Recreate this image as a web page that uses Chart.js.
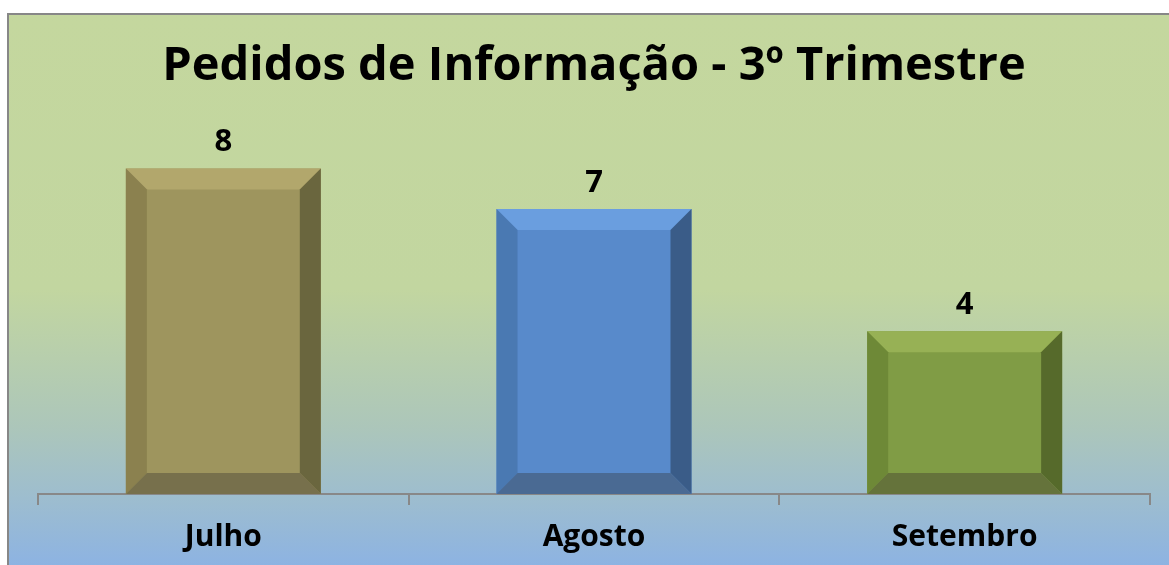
<!DOCTYPE html>
<html>
<head>
<meta charset="utf-8">
<script src="https://cdn.jsdelivr.net/npm/chart.js@4/dist/chart.umd.min.js"></script>
<style>
  html, body { margin: 0; padding: 0; background: #fff; }
  #wrap { width: 1169px; height: 565px; position: relative; }
</style>
</head>
<body>
<div id="wrap"><canvas id="pedidosChart" width="1169" height="565"></canvas></div>
<script>
// dados
var meses = ["Julho", "Agosto", "Setembro"];
var pedidos = [8, 7, 4];
var titulo = "Pedidos de Informação - 3º Trimestre";

// cores: frente, topo, esquerda, direita, base
var corFrente = ["#9E955E", "#588ACB", "#809C45"];
var corTopo = ["#B2A76C", "#6A9EDF", "#97B155"];
var corEsq = ["#8B814F", "#4A79B2", "#6E8937"];
var corDir = ["#6A663E", "#3A5C88", "#566A2B"];
var corBase = ["#77704C", "#4A6A93", "#65733B"];

var fonte = "Open Sans";

var fundoPlugin = {
  id: "fundo",
  beforeDraw: function (chart) {
    var c = chart.ctx;
    var g = c.createLinearGradient(0, 14, 0, 565);
    g.addColorStop(0, "#C4D79E");
    g.addColorStop(0.5, "#C2D6A0");
    g.addColorStop(0.75, "#ACC6BA");
    g.addColorStop(0.88, "#9DBDCF");
    g.addColorStop(1, "#8DB3E2");
    c.save();
    c.fillStyle = g;
    c.fillRect(8, 14, 1200, 600);
    c.strokeStyle = "#878787";
    c.lineWidth = 2;
    c.strokeRect(8, 14, 1200, 600);
    c.restore();
  }
};

// chanfro das barras + rotulo de valor
var chanfroPlugin = {
  id: "chanfro",
  afterDatasetsDraw: function (chart) {
    var c = chart.ctx;
    var meta = chart.getDatasetMeta(0);
    var b = 21;
    meta.data.forEach(function (bar, i) {
      var l = bar.x - bar.width / 2, r = bar.x + bar.width / 2;
      var t = bar.y, bo = bar.base;
      function quad(pts, cor) {
        c.beginPath();
        c.moveTo(pts[0][0], pts[0][1]);
        for (var k = 1; k < pts.length; k++) c.lineTo(pts[k][0], pts[k][1]);
        c.closePath();
        c.fillStyle = cor;
        c.fill();
      }
      c.save();
      quad([[l, t], [r, t], [r - b, t + b], [l + b, t + b]], corTopo[i]);
      quad([[l, t], [l + b, t + b], [l + b, bo - b], [l, bo]], corEsq[i]);
      quad([[r, t], [r, bo], [r - b, bo - b], [r - b, t + b]], corDir[i]);
      quad([[l, bo], [l + b, bo - b], [r - b, bo - b], [r, bo]], corBase[i]);
      c.fillStyle = "#000";
      c.font = "bold 31px '" + fonte + "'";
      c.textAlign = "center";
      c.textBaseline = "alphabetic";
      c.fillText(String(pedidos[i]), bar.x, t - 17);
      c.restore();
    });
  }
};

var ctx = document.getElementById("pedidosChart").getContext("2d");
new Chart(ctx, {
  type: "bar",
  data: {
    labels: meses,
    datasets: [
      {
        label: "Pedidos",
        data: pedidos,
        backgroundColor: corFrente,
        borderWidth: 0,
        barPercentage: 0.526,
        categoryPercentage: 1.0
      }
    ]
  },
  options: {
    responsive: false,
    animation: false,
    layout: { padding: { left: 38, right: 19, top: 0, bottom: 0 } },
    plugins: {
      legend: { display: false },
      tooltip: { enabled: false },
      title: {
        display: true,
        text: titulo,
        color: "#000",
        font: { family: fonte, size: 47, weight: "bold", lineHeight: 1.0 },
        padding: { top: 43, bottom: -3 }
      }
    },
    scales: {
      x: {
        afterFit: function (scale) { scale.height = 71; },
        grid: { drawOnChartArea: false, tickLength: 11, color: "#888", lineWidth: 2 },
        border: { color: "#888", width: 2 },
        ticks: { color: "#000", font: { family: fonte, size: 30, weight: "bold" }, padding: 14 }
      },
      y: {
        display: false,
        min: 0,
        max: 10
      }
    }
  },
  plugins: [fundoPlugin, chanfroPlugin]
});
</script>
</body>
</html>
